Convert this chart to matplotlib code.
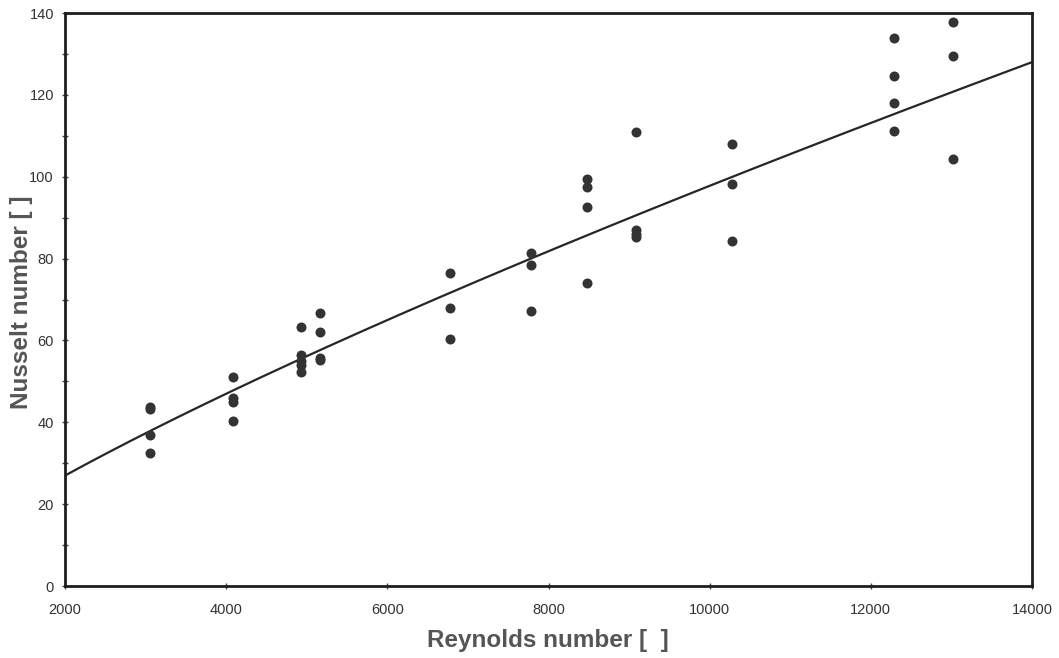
import numpy as np
import matplotlib
matplotlib.use("Agg")
import matplotlib.pyplot as plt

plt.rcParams["font.family"] = ["Liberation Sans", "DejaVu Sans"]

# Measured data (Reynolds number, Nusselt number)
reynolds = [3050, 3050, 3050, 3050,
            4080, 4080, 4080, 4080,
            4930, 4930, 4930, 4930, 4930,
            5170, 5170, 5170, 5170,
            6780, 6780, 6780,
            7780, 7780, 7780,
            8480, 8480, 8480, 8480,
            9080, 9080, 9080, 9080,
            10280, 10280, 10280,
            12290, 12290, 12290, 12290,
            13020, 13020, 13020]
nusselt = [43.8, 43.2, 36.9, 32.4,
           51.0, 45.9, 45.0, 40.2,
           63.2, 56.5, 55.0, 54.0, 52.3,
           66.8, 62.1, 55.8, 55.2,
           76.5, 68.0, 60.3,
           81.4, 78.4, 67.3,
           99.5, 97.6, 92.5, 74.0,
           111.0, 87.0, 86.0, 85.2,
           108.0, 98.2, 84.3,
           133.8, 124.7, 117.9, 111.1,
           137.9, 129.5, 104.4]

# Power-law fit Nu = C * Re^n
fit_C = 0.0617
fit_n = 0.80

x_ticks = [2000, 4000, 6000, 8000, 10000, 12000, 14000]
y_ticks = [0, 20, 40, 60, 80, 100, 120, 140]

fig = plt.figure(figsize=(10.59, 6.58), dpi=100)
ax = fig.add_axes([0.0614, 0.1094, 0.9131, 0.8708])

re_line = np.linspace(2000, 14000, 300)
ax.plot(re_line, fit_C * re_line ** fit_n, color="#262626", lw=1.6, zorder=2)
ax.plot(reynolds, nusselt, linestyle="none", marker="o", markersize=7.2,
        color="#333333", markeredgewidth=0, zorder=3)

ax.set_xlim(2000, 14000)
ax.set_ylim(0, 140)
ax.set_xticks(x_ticks)
ax.set_yticks(y_ticks)
ax.set_yticks(np.arange(10, 140, 20), minor=True)
ax.set_xticklabels([str(v) for v in x_ticks])
ax.tick_params(axis="both", which="major", labelsize=10.5, labelcolor="#333333",
               color="#444444", width=1, length=4, direction="inout")
ax.tick_params(axis="x", pad=10)
ax.tick_params(axis="y", pad=6)
ax.tick_params(axis="y", which="minor", length=4, width=1, color="#444444", direction="inout")
for sp in ax.spines.values():
    sp.set_linewidth(2.0)
    sp.set_color("#1e1e1e")

lab_font = dict(fontsize=17.5, fontweight="bold", color="#555555")
fig.text(548 / 1059, 1 - 640 / 658, "Reynolds number [  ]", ha="center", va="center", **lab_font)
fig.text(22 / 1059, 1 - 302 / 658, "Nusselt number [ ]", ha="center", va="center",
         rotation=90, **lab_font)

fig.savefig("out.png", dpi=100, facecolor="white")
